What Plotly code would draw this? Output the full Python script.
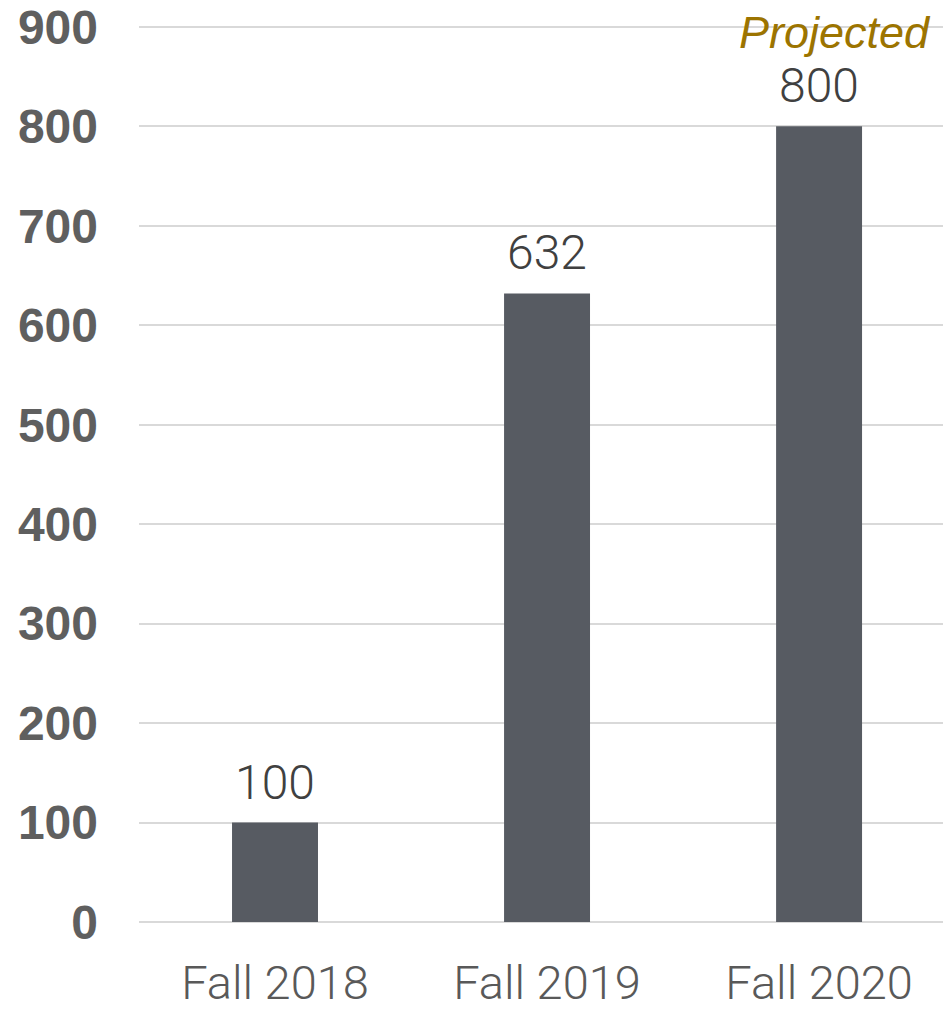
import plotly.graph_objects as go

categories = ["Fall 2018", "Fall 2019", "Fall 2020"]
values = [100, 632, 800]
y_ticks = [0, 100, 200, 300, 400, 500, 600, 700, 800, 900]
note_text = "Projected"
note_category = "Fall 2020"

BAR = "#575b62"
GRID = "#d9d9d9"
LIGHT = "Roboto, sans-serif"

fig = go.Figure()
fig.add_trace(go.Bar(
    x=categories, y=values, marker=dict(color=BAR, line=dict(width=0)),
    width=0.316, hoverinfo="skip",
))

annotations = []
for c, v in zip(categories, values):
    annotations.append(dict(
        x=c, y=v, xref="x", yref="y", text=str(v), showarrow=False,
        yanchor="bottom", yshift=10,
        font=dict(family=LIGHT, size=48, color="#404040", weight=300),
    ))
annotations.append(dict(
    x=note_category, y=900, xref="x", yref="y", text=f"<i>{note_text}</i>", showarrow=False,
    yanchor="middle", xshift=16, yshift=-6,
    font=dict(family="Liberation Sans, Arial, sans-serif", size=45, color="#9c7400"),
))

# page body has an 8px margin, so the figure is offset by 8px
fig.update_layout(
    width=943, height=1001,
    margin=dict(l=131, r=0, t=4, b=87),
    paper_bgcolor="white", plot_bgcolor="white",
    showlegend=False,
    annotations=annotations,
    xaxis=dict(
        range=[-0.5, 2.485], showgrid=False, zeroline=False, showline=False,
        ticks="", ticklabelstandoff=29, automargin=False,
        tickfont=dict(family=LIGHT, size=47, color="#595959", weight=300),
    ),
    yaxis=dict(
        range=[0, 915], tickmode="array", tickvals=y_ticks,
        ticktext=[str(t) for t in y_ticks],
        showgrid=True, gridcolor=GRID, gridwidth=2,
        zeroline=True, zerolinecolor=GRID, zerolinewidth=2,
        showline=False, ticks="", ticklabelstandoff=40, automargin=False,
        ticklabeloverflow="allow",
        tickfont=dict(family="Liberation Sans, Arial, sans-serif", size=48, color="#5f5f5f", weight="bold"),
    ),
)

fig.write_html("out.html")
